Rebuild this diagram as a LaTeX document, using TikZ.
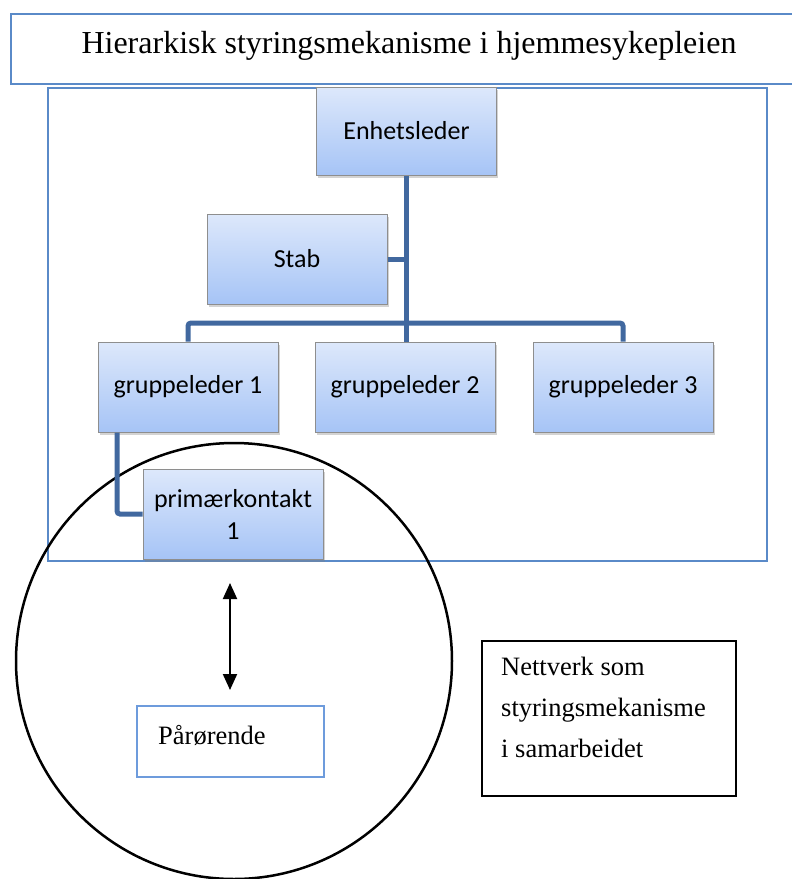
\documentclass[tikz,border=0pt]{standalone}
\usepackage{fontspec}
\setmainfont{Liberation Serif}
\newfontfamily\calfont{Carlito}
\usetikzlibrary{arrows.meta,shadows}
\definecolor{frameblue}{HTML}{5A8AC8}
\definecolor{linkblue}{HTML}{41689F}
\definecolor{boxtop}{HTML}{DDE8FB}
\definecolor{boxbot}{HTML}{A6C4F6}
\definecolor{boxedge}{HTML}{8E8E8E}
\definecolor{lightedge}{HTML}{6D9BDC}
\tikzset{
  orgbox/.style={draw=boxedge, line width=1pt, top color=boxtop, bottom color=boxbot,
    minimum width=180pt, minimum height=90pt, inner sep=2pt, align=center,
    font=\calfont\fontsize{26}{32}\selectfont,
    drop shadow={opacity=0.35, shadow xshift=1.5pt, shadow yshift=-2.5pt}},
  link/.style={draw=linkblue, line width=5pt, rounded corners=3pt},
  frame/.style={draw=frameblue, line width=2pt},
}
\begin{document}
\begin{tikzpicture}[x=1pt,y=-1pt]
\useasboundingbox (0,0) rectangle (792,879);
% title
\node[frame, minimum width=795pt, minimum height=70pt, anchor=north west, inner sep=0pt] (title) at (10,13) {};
\node[font=\fontsize{32}{36}\selectfont] (titletext) at (409,46) {Hierarkisk styringsmekanisme i hjemmesykepleien};
% outer frame
\node[frame, minimum width=719pt, minimum height=473pt, anchor=north west, inner sep=0pt] (outer) at (47,87) {};
% circle
\node[draw=black, line width=2.5pt, circle, minimum size=436pt, inner sep=0pt] (net) at (234,661) {};
% org boxes
\node[orgbox, minimum height=88pt] (enh) at (406.5,131) {Enhetsleder};
\node[orgbox] (stab) at (297,259) {Stab};
\node[orgbox] (g1) at (188,387) {gruppeleder 1};
\node[orgbox] (g2) at (405,387) {gruppeleder 2};
\node[orgbox] (g3) at (623,387) {gruppeleder 3};
\node[orgbox] (pk) at (233,514) {primærkontakt\\1};
% connectors
\coordinate (bar) at (406,323);
\draw[link] (enh.south -| bar) -- (bar);
\draw[link] (stab.east) -- (stab.east -| bar);
\draw[link] (g1.north) |- (bar) -| (g3.north);
\draw[link] (bar) -- (g2.north -| bar);
\draw[link] (g1.south -| 117,0) |- (pk.west);
% arrow
\coordinate (atop) at (230,583);
\coordinate (abot) at (230,690);
\draw[line width=2pt, {Triangle[width=14pt,length=16pt]}-{Triangle[width=14pt,length=16pt]}] (atop) -- (abot);
% Pårørende
\node[draw=lightedge, line width=2pt, minimum width=187pt, minimum height=71pt, inner sep=0pt] (par) at (230.5,741.5) {};
\node[anchor=base west, font=\fontsize{26.5}{30}\selectfont, inner sep=0pt] (partext) at (158,744) {Pårørende};
% network box
\node[draw=black, line width=1.5pt, minimum width=254pt, minimum height=155pt, inner sep=0pt] (nbox) at (609,718.5) {};
\node[anchor=north west, align=left, font=\fontsize{26.5}{41}\selectfont, inner sep=0pt] (ntext) at (501,657) {Nettverk som\\styringsmekanisme\\i samarbeidet};
\end{tikzpicture}
\end{document}
